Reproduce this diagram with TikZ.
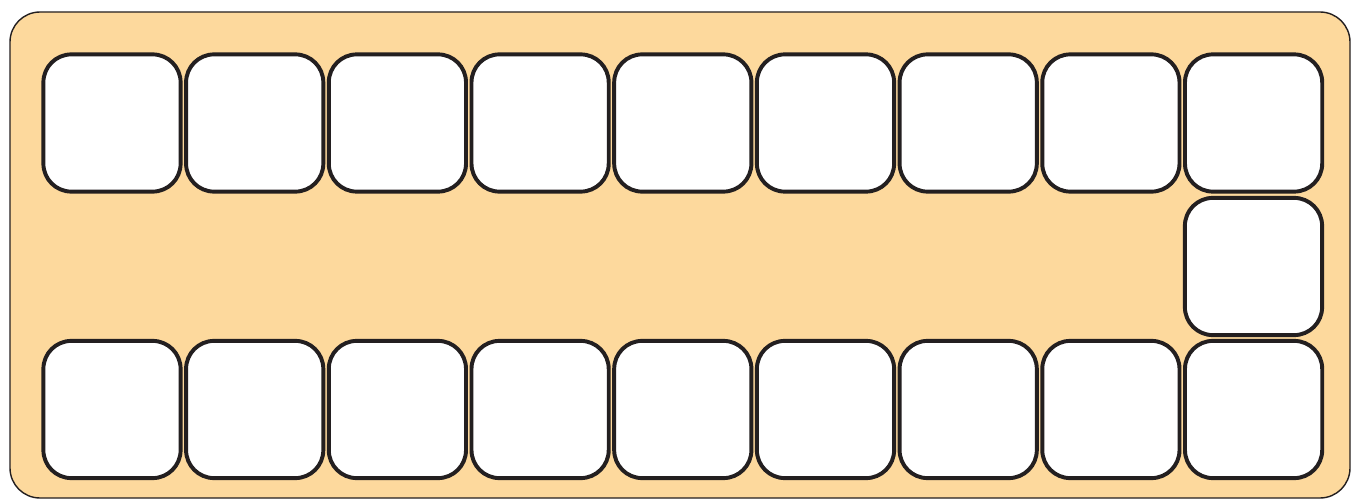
\documentclass[tikz,border=0pt]{standalone}
\usepackage{tikz}
\usetikzlibrary{positioning}

\definecolor{boardfill}{RGB}{253,217,157}
\definecolor{inkdark}{RGB}{35,31,32}

\tikzset{
    cell/.style={draw=inkdark, fill=white, line width=2.8pt, rounded corners=0.7cm,
        minimum width=3.43cm, minimum height=3.43cm, inner sep=0pt},
    board/.style={draw=inkdark, fill=boardfill, line width=1pt, rounded corners=0.75cm}
}

\begin{document}
\begin{tikzpicture}[x=0.025cm, y=-0.025cm]
    \useasboundingbox (0,0) rectangle (1351,499);
    % 底板
    \draw[board] (10,12) rectangle (1350,498);

    % 上面一排
    \foreach \i in {1,...,9} {
        \node[cell] (top\i) at ({112+142.7*(\i-1)}, 123) {};
    }
    % 右边中间
    \node[cell] (mid) at (1253.5, 266.5) {};
    % 下面一排
    \foreach \i in {1,...,9} {
        \node[cell] (bot\i) at ({112+142.7*(\i-1)}, 409.5) {};
    }
\end{tikzpicture}
\end{document}
